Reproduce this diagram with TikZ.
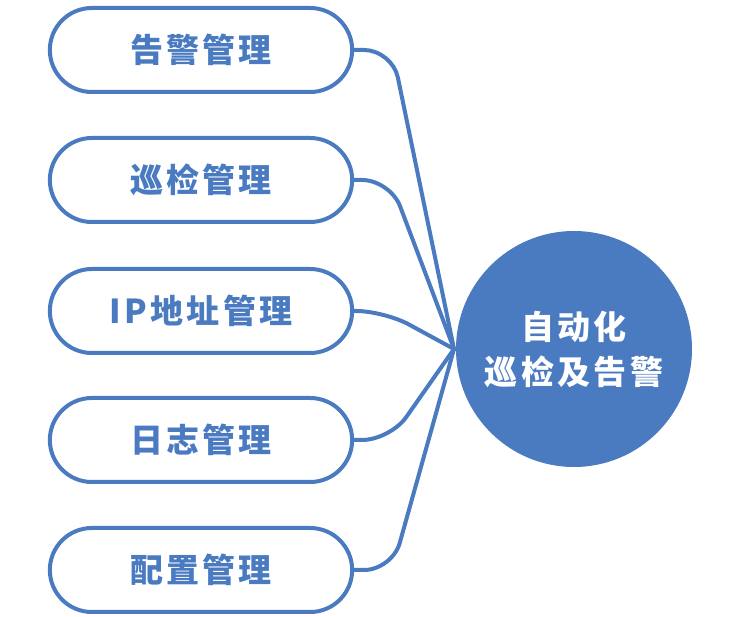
\documentclass[tikz,border=0pt]{standalone}
\usepackage{fontspec}
\newfontfamily\cjk{Noto Sans CJK SC}[BoldFont={* Black},LetterSpace=10]
\usetikzlibrary{shapes.misc}

\definecolor{mainblue}{HTML}{4A7BC1}

\begin{document}
\begin{tikzpicture}[x=1pt,y=-1pt,line width=4pt,line cap=round,
    item/.style={draw=mainblue,rounded rectangle,minimum width=309pt,
        minimum height=84pt,text=mainblue,font=\cjk\bfseries\fontsize{33}{38}\selectfont},
    hub/.style={circle,fill=mainblue,minimum size=236pt,text=white,align=center,
        font=\cjk\bfseries\fontsize{33}{45}\selectfont},
    link/.style={draw=mainblue,rounded corners=28pt}]

        % Fix the page to the size of the picture.
        \useasboundingbox (0,0) rectangle (740,617);

        % The five items on the left.
        \node[item] (alarm) at (201, 50) {告警管理};
        \node[item] (inspect) at (201, 180) {巡检管理};
        \node[item] (ipaddr) at (201, 311) {IP地址管理};
        \node[item] (logs) at (201, 440) {日志管理};
        \node[item] (config) at (201, 570) {配置管理};

        % The big circle on the right.
        \node[hub] (auto) at (574, 349) {自动化\\巡检及告警};

        % Join every item to the circle.
        \draw[link] (alarm.east) -- ++(38,0) -- (auto.west);
        \draw[link] (inspect.east) -- ++(36,0) -- (auto.west);
        \draw[link] (ipaddr.east) -- ++(30,0) -- (auto.west);
        \draw[link] (logs.east) -- ++(36,0) -- (auto.west);
        \draw[link] (config.east) -- ++(38,0) -- (auto.west);
    \end{tikzpicture}
\end{document}
